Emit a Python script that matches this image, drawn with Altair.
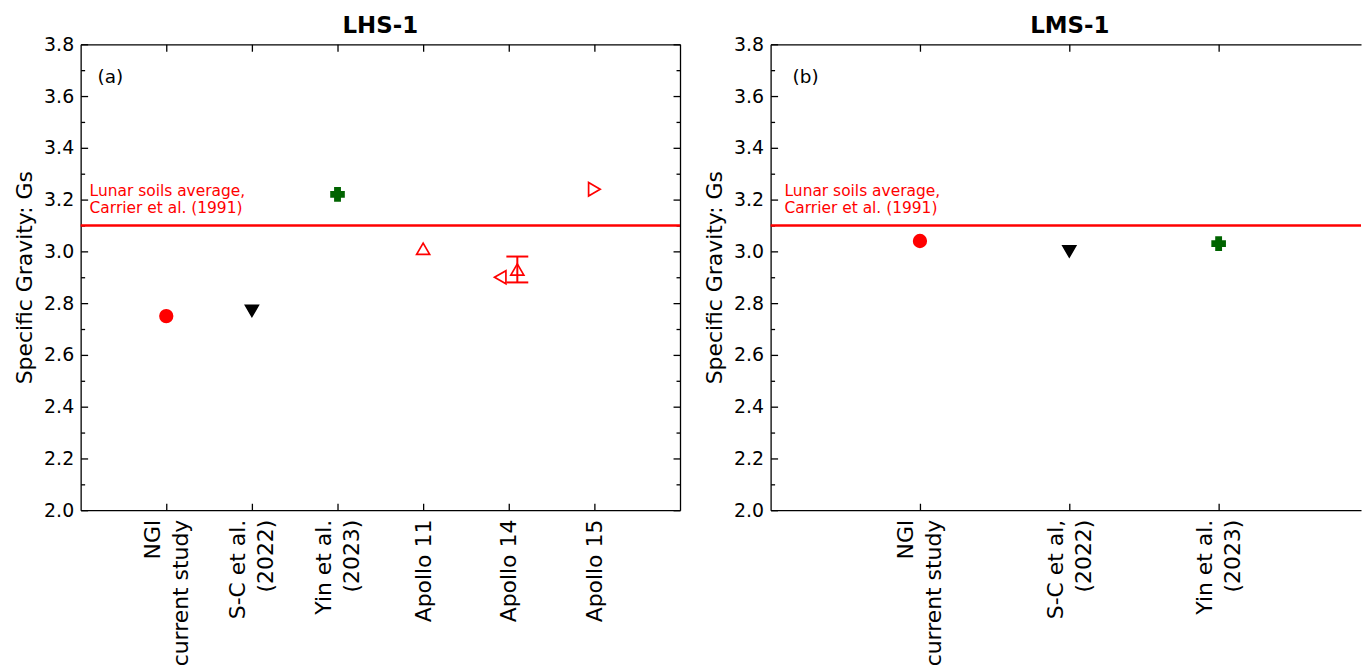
import altair as alt
import pandas as pd

# ---------------- data ----------------
lhs_labels = ["NGI\ncurrent study", "S-C et al.\n(2022)", "Yin et al.\n(2023)",
              "Apollo 11", "Apollo 14", "Apollo 15"]
lhs_point_cat = [1, 2, 3, 4, 5, 5, 6]
lhs_point_gs = [2.75, 2.77, 3.22, 3.01, 2.90, 2.93, 3.24]
lhs_point_kind = ["ngi", "sc", "yin", "apollo_up", "apollo_left", "apollo_up", "apollo_right"]
apollo14_gs_low = 2.88
apollo14_gs_high = 2.98

lms_labels = ["NGI\ncurrent study", "S-C et al,\n(2022)", "Yin et al.\n(2023)"]
lms_point_cat = [1, 2, 3]
lms_point_gs = [3.04, 3.00, 3.03]
lms_point_kind = ["ngi", "sc", "yin"]

lunar_soils_average = 3.1
lunar_note = "Lunar soils average,\nCarrier et al. (1991)"

y_major_ticks = [2.0, 2.2, 2.4, 2.6, 2.8, 3.0, 3.2, 3.4, 3.6, 3.8]
y_minor_ticks = [2.1, 2.3, 2.5, 2.7, 2.9, 3.1, 3.3, 3.5, 3.7]

# ---------------- styles ----------------
FONT = "DejaVu Sans"
kinds = ["ngi", "sc", "yin", "apollo_up", "apollo_left", "apollo_right"]
k_shapes = ["circle", "triangle-down", "cross", "triangle-up", "triangle-left", "triangle-right"]
k_fills = ["red", "black", "darkgreen", "transparent", "transparent", "transparent"]
k_strokes = ["red", "black", "darkgreen", "red", "red", "red"]
k_sizes = [160, 180, 160, 130, 130, 130]
dodge = {(5, "apollo_left"): -0.1, (5, "apollo_up"): 0.1}

Y_DOMAIN = [2.0, 3.8]
PLOT_H = 468
TICK = 7
MINOR = 4
LW = 1.3
LINE_H = 28


def label_expr(labels):
    parts = []
    for i, lab in enumerate(labels, start=1):
        arr = "[" + ",".join("'" + s + "'" for s in lab.split("\n")) + "]"
        parts.append(f"datum.value == {i} ? {arr} : ")
    return "".join(parts) + "''"


def multiline_test(labels):
    idx = [str(i) for i, lab in enumerate(labels, start=1) if "\n" in lab]
    if not idx:
        return "false"
    return "indexof([" + ",".join(idx) + "], datum.value) >= 0"


def tick_axis(orient, values, size):
    return alt.Axis(orient=orient, values=values, labels=False, domain=False,
                    ticks=True, tickSize=size, offset=-size, tickColor="black",
                    tickWidth=LW, grid=False, title=None)


def domain_axis(orient):
    return alt.Axis(orient=orient, labels=False, ticks=False, tickSize=0, domain=True,
                    domainColor="black", domainWidth=LW, grid=False, title=None)


def panel(labels, cats, gs, kinds_, title, tag, width, x_max, note_x, tag_x,
          right_side=True, errbar=None, title_dx=0):
    n = len(labels)
    xs = alt.Scale(domain=[0, x_max], nice=False, zero=False)
    ys = alt.Scale(domain=Y_DOMAIN, nice=False, zero=False)
    pos = [c + dodge.get((c, k), 0) for c, k in zip(cats, kinds_)]
    df = pd.DataFrame({"pos": pos, "gs": gs, "kind": kinds_})
    base = alt.Chart(df)
    xvals = list(range(1, n + 1))

    x_lab_axis = alt.Axis(orient="bottom", values=xvals,
                          labelExpr=label_expr(labels), labelAngle=270,
                          labelAlign="right", labelBaseline="middle",
                          labelFontSize=22, labelFont=FONT, labelColor="black",
                          labelLineHeight=LINE_H, labelPadding=9, labelLimit=400,
                          labelOffset={"condition": {"test": multiline_test(labels),
                                                     "value": -LINE_H / 2},
                                       "value": 0},
                          labelOverlap=False, labelFlush=False,
                          ticks=False, tickSize=0, domain=True, domainColor="black",
                          domainWidth=LW, grid=False, title=None)
    y_lab_axis = alt.Axis(orient="left", values=y_major_ticks, format=".1f",
                          labelFontSize=19, labelFont=FONT, labelColor="black",
                          labelPadding=7, ticks=False, tickSize=0, domain=True,
                          domainColor="black", domainWidth=LW,
                          grid=False, title="Specific Gravity: Gs", titleFontSize=22,
                          titleFont=FONT, titleFontWeight="normal", titleColor="black",
                          titlePadding=7)

    def ax_layer(xaxis, yaxis):
        return base.mark_point(opacity=0).encode(
            x=alt.X("pos:Q", scale=xs, axis=xaxis),
            y=alt.Y("gs:Q", scale=ys, axis=yaxis),
        )

    layers = [
        ax_layer(x_lab_axis, y_lab_axis),
        ax_layer(tick_axis("bottom", xvals, TICK), tick_axis("left", y_major_ticks, TICK)),
        ax_layer(domain_axis("top"), tick_axis("left", y_minor_ticks, MINOR)),
    ]
    if right_side:
        layers += [
            ax_layer(tick_axis("top", xvals, TICK), domain_axis("right")),
            ax_layer(None, tick_axis("right", y_major_ticks, TICK)),
            ax_layer(None, tick_axis("right", y_minor_ticks, MINOR)),
        ]
    else:
        layers += [ax_layer(tick_axis("top", xvals, TICK), None)]

    avg = alt.Chart(pd.DataFrame({"gs": [lunar_soils_average]})).mark_rule(
        color="red", strokeWidth=2.5).encode(y=alt.Y("gs:Q", scale=ys, axis=None))
    layers.append(avg)

    note = alt.Chart(pd.DataFrame({"t": [lunar_note]})).mark_text(
        align="left", baseline="alphabetic", lineBreak="\n", lineHeight=17,
        fontSize=15.5, font=FONT, color="red").encode(
        x=alt.value(note_x),
        y=alt.Y(datum=3.215, type="quantitative", scale=ys, axis=None),
        text="t:N")
    layers.append(note)

    tagc = alt.Chart(pd.DataFrame({"t": [tag]})).mark_text(
        align="left", baseline="middle", fontSize=18.5, font=FONT, color="black").encode(
        x=alt.value(tag_x), y=alt.value(33), text="t:N")
    layers.append(tagc)

    if errbar is not None:
        ex, lo, hi = errbar
        edf = pd.DataFrame({"pos": [ex], "lo": [lo], "hi": [hi]})
        layers.append(alt.Chart(edf).mark_rule(color="red", strokeWidth=2).encode(
            x=alt.X("pos:Q", scale=xs, axis=None),
            y=alt.Y("lo:Q", scale=ys, axis=None), y2="hi:Q"))
        cdf = pd.DataFrame({"pos": [ex, ex], "gs": [lo, hi]})
        layers.append(alt.Chart(cdf).mark_tick(
            orient="horizontal", color="red", size=22, thickness=2, opacity=1).encode(
            x=alt.X("pos:Q", scale=xs, axis=None),
            y=alt.Y("gs:Q", scale=ys, axis=None)))

    pts = base.mark_point(opacity=1, strokeWidth=1.7).encode(
        x=alt.X("pos:Q", scale=xs, axis=None),
        y=alt.Y("gs:Q", scale=ys, axis=None),
        shape=alt.Shape("kind:N", scale=alt.Scale(domain=kinds, range=k_shapes), legend=None),
        fill=alt.Fill("kind:N", scale=alt.Scale(domain=kinds, range=k_fills), legend=None),
        stroke=alt.Stroke("kind:N", scale=alt.Scale(domain=kinds, range=k_strokes), legend=None),
        size=alt.Size("kind:O", scale=alt.Scale(domain=kinds, range=k_sizes), legend=None),
    )
    layers.append(pts)

    return alt.layer(*layers).resolve_scale(
        x="independent", y="independent", shape="independent", fill="independent",
        stroke="independent", size="independent"
    ).resolve_axis(x="independent", y="independent").properties(
        width=width, height=PLOT_H,
        title=alt.TitleParams(title, fontSize=23, fontWeight="bold", font=FONT,
                              color="black", offset=-3, frame="group", anchor="middle",
                              dx=title_dx),
    )


left = panel(lhs_labels, lhs_point_cat, lhs_point_gs, lhs_point_kind, "LHS-1", "(a)",
             602, 7, 9, 17, right_side=True,
             errbar=(5 + 0.1, apollo14_gs_low, apollo14_gs_high))
# right panel: 150 px per category step; the frame runs past the window edge
right = panel(lms_labels, lms_point_cat, lms_point_gs, lms_point_kind, "LMS-1", "(b)",
              593, 593 / 150, 14, 22, right_side=False, title_dx=4)

chart = alt.hconcat(left, right, spacing=21).properties(
    padding={"left": 13, "top": 14, "right": 0, "bottom": 0},
    background="white",
).configure(font=FONT, view=alt.ViewConfig(stroke="transparent", strokeWidth=0))

chart.save("out.html", embed_options={"renderer": "svg", "actions": False})
